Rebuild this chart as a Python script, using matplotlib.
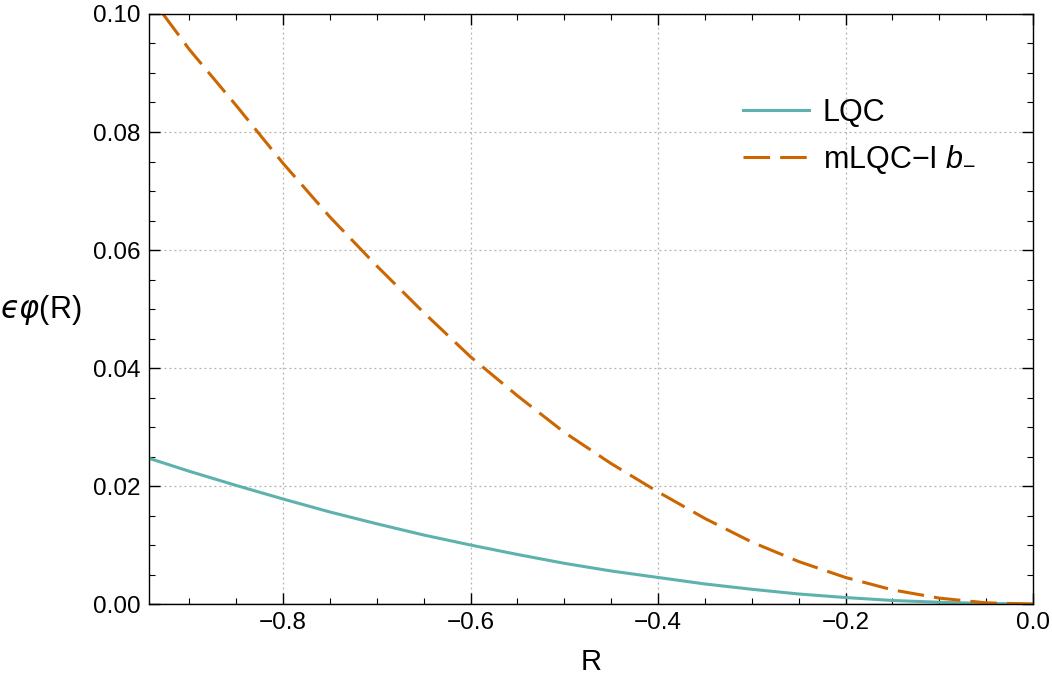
import matplotlib
matplotlib.use("Agg")
import matplotlib.pyplot as plt
from matplotlib.ticker import MultipleLocator

plt.rcParams['font.family'] = ['Liberation Sans', 'DejaVu Sans']
plt.rcParams['mathtext.fontset'] = 'custom'
plt.rcParams['mathtext.rm'] = 'Liberation Sans'
plt.rcParams['mathtext.it'] = 'Liberation Sans:italic'
plt.rcParams['mathtext.fallback'] = 'cm'

# values
r_lqc = [-0.943, -0.9, -0.85, -0.8, -0.75, -0.7, -0.65, -0.6, -0.55, -0.5,
         -0.45, -0.4, -0.35, -0.3, -0.25, -0.2, -0.15, -0.1, -0.05, 0.0]
phi_lqc = [0.0247, 0.0225, 0.0201, 0.0178, 0.0156, 0.0136, 0.0117, 0.0100, 0.0084, 0.0069,
           0.0056, 0.0045, 0.0034, 0.0025, 0.0017, 0.0011, 0.0006, 0.0003, 0.0001, 0.0]

r_mlqc = [-0.928, -0.9, -0.85, -0.8, -0.75, -0.7, -0.65, -0.6, -0.55, -0.5,
          -0.45, -0.4, -0.35, -0.3, -0.25, -0.2, -0.15, -0.1, -0.05, 0.0]
phi_mlqc = [0.1000, 0.0940, 0.0845, 0.0747, 0.0656, 0.0573, 0.0494, 0.0419, 0.0353, 0.0291,
            0.0238, 0.0190, 0.0145, 0.0105, 0.0072, 0.0045, 0.0024, 0.0010, 0.0002, 0.0]

labels = ['LQC', 'mLQC\u2212I $b_{-}$']

fig = plt.figure(figsize=(10.52, 6.86), dpi=100)
ax = fig.add_axes([0.1416, 0.1195, 0.8404, 0.8601])

ax.plot(r_lqc, phi_lqc, color='#5db2ad', lw=2.2, label=labels[0])
ax.plot(r_mlqc, phi_mlqc, color='#cc6600', lw=2.2, dashes=(8.7, 3.3), label=labels[1])
ax.axhline(0, color='#888888', lw=1, zorder=1)

ax.set_xlim(-0.943, 0)
ax.set_ylim(0, 0.1)
ax.xaxis.set_major_locator(MultipleLocator(0.2))
ax.xaxis.set_minor_locator(MultipleLocator(0.05))
ax.yaxis.set_major_locator(MultipleLocator(0.02))
ax.yaxis.set_minor_locator(MultipleLocator(0.005))
ax.yaxis.set_major_formatter(matplotlib.ticker.FormatStrFormatter('%.2f'))
ax.xaxis.set_major_formatter(matplotlib.ticker.FuncFormatter(
    lambda v, p: ('%.1f' % v).replace('-', '\u2212')))
ax.tick_params(which='both', direction='in', top=True, right=True, labelsize=17.5)
ax.tick_params(which='major', length=8, width=1, pad=6)
ax.tick_params(which='minor', length=4, width=0.8)
ax.grid(True, which='major', color='#b0b0b0', ls=(0, (1.5, 2.5)), lw=0.9)
for s in ax.spines.values():
    s.set_linewidth(1)

ax.set_xlabel('R', fontsize=21, labelpad=10)
fig.text(0.0, 0.548, '$\u03f5\\varphi$(R)', fontsize=22, ha='left', va='center',
         math_fontfamily='dejavusans')

ax.legend(loc='upper left', bbox_to_anchor=(0.641, 0.905), frameon=False, fontsize=22,
          handlelength=2.15, handletextpad=0.45, labelspacing=0.5)

fig.savefig('out.png', dpi=100)
